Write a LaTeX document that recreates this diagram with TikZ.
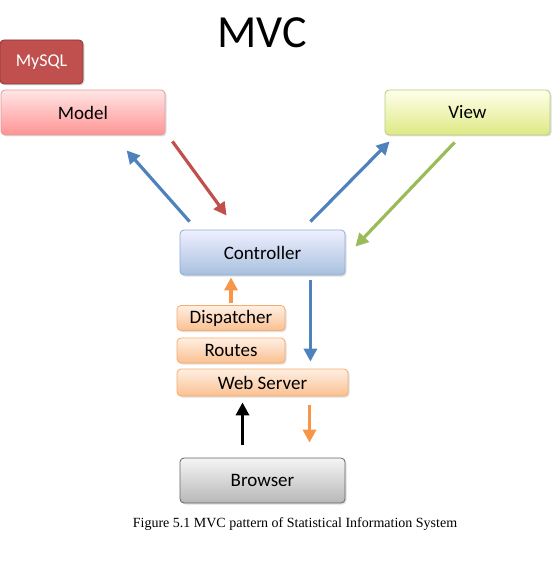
\documentclass[tikz,border=0pt]{standalone}
\usepackage{fontspec}
\setmainfont{Carlito}
\newfontfamily\capfont{Liberation Serif}
\usetikzlibrary{arrows.meta,shadows}
\definecolor{dbred}{HTML}{C0504D}
\definecolor{dbblue}{HTML}{4F81BD}
\definecolor{dbgreen}{HTML}{9BBB59}
\definecolor{dborange}{HTML}{F79646}
\begin{document}
\begin{tikzpicture}[x=1pt, y=-1pt,
	box/.style = {draw, rounded corners=4pt, line width=0.8pt, inner sep=0pt,
		font=\fontsize{19}{22}\selectfont, drop shadow={opacity=0.25, shadow xshift=1.5pt, shadow yshift=-1.5pt}},
	flow/.style = {line width=3.2pt, -{Triangle[length=13pt, width=13pt]}}]
	\useasboundingbox (0,0) rectangle (551,564);
	% title
	\node (title) at (262,33) {\fontsize{46}{52}\selectfont MVC};
	% boxes
	\node [box, draw=dbred!70!black, fill=dbred, text=white, minimum width=83pt, minimum height=44pt, font=\fontsize{18}{21}\selectfont] (mysql) at (41.5,62) {MySQL};
	\node [box, draw=dbred!55, top color=red!10, bottom color=red!42, minimum width=164pt, minimum height=45pt] (model) at (83,112.5) {Model};
	\node [box, draw=dbgreen!75, top color=yellow!8, bottom color=dbgreen!55!yellow!60, minimum width=165pt, minimum height=45pt] (view) at (467.5,112.5) {View};
	\node [box, draw=dbblue!65, top color=blue!6, bottom color=dbblue!50, minimum width=165pt, minimum height=45pt] (ctrl) at (262.5,252.5) {Controller};
	\node [box, draw=dborange!80, top color=dborange!15, bottom color=dborange!60, minimum width=108pt, minimum height=25pt] (disp) at (231,318) {Dispatcher};
	\node [box, draw=dborange!80, top color=dborange!15, bottom color=dborange!60, minimum width=108pt, minimum height=25pt] (routes) at (231,350.5) {Routes};
	\node [box, draw=dborange!80, top color=dborange!15, bottom color=dborange!60, minimum width=171pt, minimum height=27pt] (web) at (262.5,382.5) {Web Server};
	\node [box, draw=black!60, top color=black!4, bottom color=black!28, minimum width=165pt, minimum height=45pt] (browser) at (262.5,480.5) {Browser};
	% arrows
	\draw [flow, dbblue] ([xshift=10pt, yshift=8pt]ctrl.north west) -- ([xshift=126pt, yshift=-15pt]model.south west);
	\draw [flow, dbred] ([xshift=7pt, yshift=-6pt]model.south east) -- ([xshift=47pt, yshift=14pt]ctrl.north west);
	\draw [flow, dbblue] ([xshift=-35pt, yshift=8pt]ctrl.north east) -- ([xshift=5pt, yshift=-6pt]view.south west);
	\draw [flow, dbgreen] ([xshift=70pt, yshift=-7pt]view.south west) -- ([xshift=10pt, yshift=-17pt]ctrl.north east);
	\draw [flow, dborange] ([yshift=2pt]disp.north) -- ([yshift=-2pt]disp.north |- ctrl.south);
	\draw [flow, dbblue] ([xshift=-35pt, yshift=-5pt]ctrl.south east) -- ([xshift=-38pt, yshift=7pt]web.north east);
	\draw [flow, black] ([xshift=-20pt, yshift=13pt]browser.north) -- ([xshift=-20pt, yshift=-6pt]web.south);
	\draw [flow, dborange] ([xshift=47pt, yshift=-9pt]web.south) -- ([xshift=47pt, yshift=15pt]browser.north);
	% caption
	\node (caption) at (295,524) {\capfont\fontsize{14}{17}\selectfont Figure 5.1 MVC pattern of Statistical Information System};
\end{tikzpicture}
\end{document}
